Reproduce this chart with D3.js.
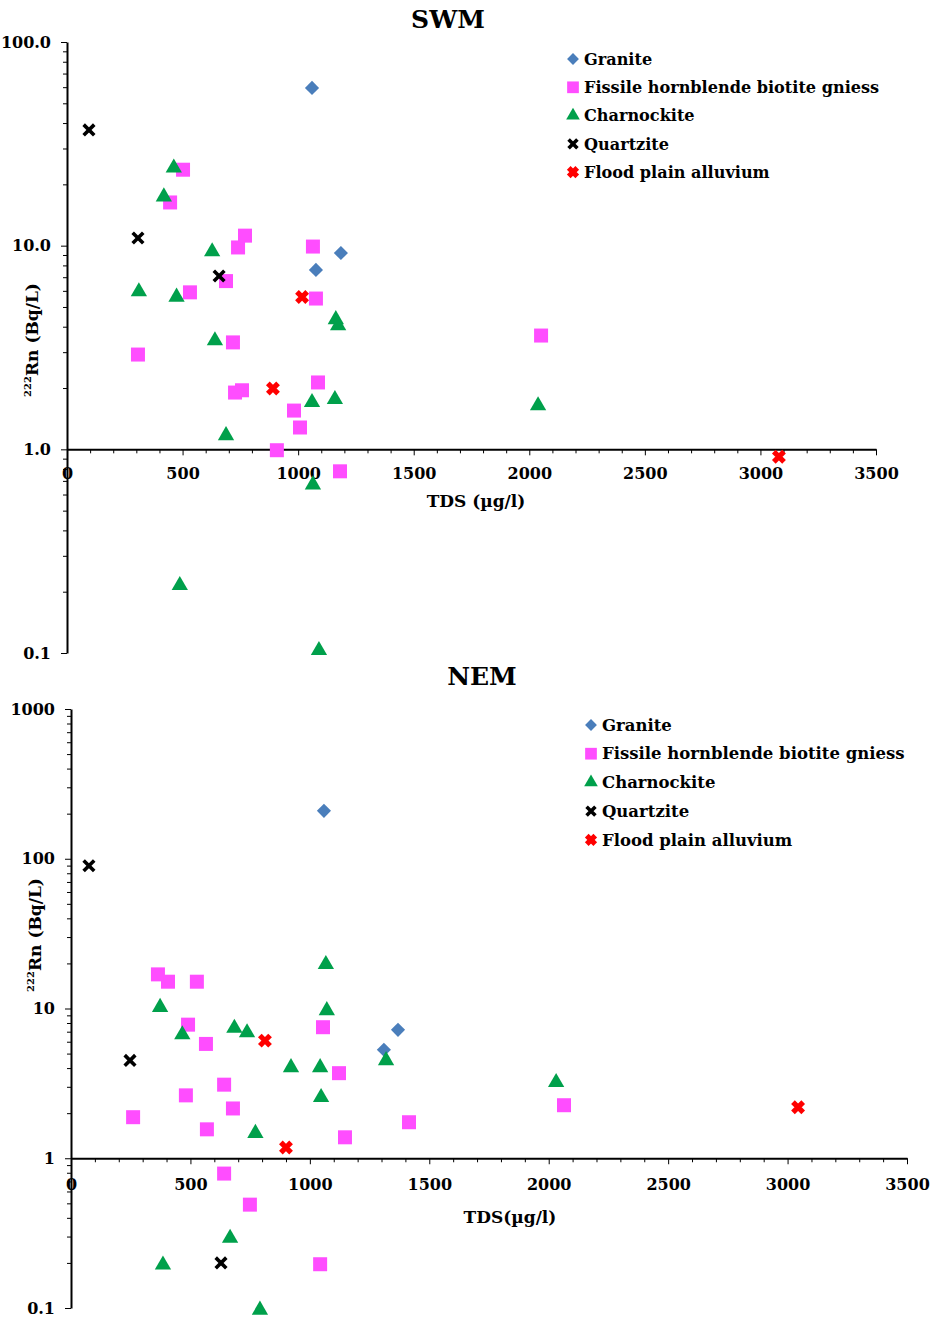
<!DOCTYPE html>
<html>
<head>
<meta charset="UTF-8">
<title>222Rn vs TDS</title>
<style>
  body { margin: 0; background: #fff; }
  svg { display: block; font-family: "DejaVu Serif", serif; font-weight: bold; }
  .tick line, .domain { stroke: #000; }
</style>
</head>
<body>
<svg></svg>
<script src="https://d3js.org/d3.v7.min.js"></script>
<script>

let width = 936, height = 1317;

const seriesNames = ["Granite", "Fissile hornblende biotite gniess", "Charnockite", "Quartzite", "Flood plain alluvium"];

// SWM season, [TDS, 222Rn]
const swmGranite = [[1060, 59.5], [1077, 7.6], [1185, 9.2]];
const swmFissile = [[502, 23.6], [446, 16.3], [770, 11.2], [740, 9.8], [532, 5.9], [688, 6.7], [1064, 9.9],
  [1077, 5.5], [718, 3.35], [307, 2.92], [727, 1.9], [757, 1.95], [1086, 2.13], [982, 1.55], [1008, 1.28],
  [908, 0.99], [1181, 0.78], [2051, 3.62]];
const swmCharnockite = [[462, 24.1], [419, 17.4], [628, 9.35], [311, 5.95], [474, 5.6], [1163, 4.34], [1173, 4.05],
  [640, 3.42], [1060, 1.70], [1159, 1.76], [688, 1.17], [1064, 0.67], [488, 0.215], [1090, 0.103], [2038, 1.64]];
const swmQuartzite = [[95, 37], [307, 10.9], [658, 7.1]];
const swmFlood = [[1017, 5.6], [891, 1.99], [3080, 0.92]];

// NEM season, [TDS, 222Rn]
const nemGranite = [[1059, 209], [1310, 5.3], [1369, 7.2]];
const nemFissile = [[364, 16.9], [406, 15.1], [527, 15.1], [490, 7.8], [565, 5.8], [1055, 7.5], [1122, 3.7],
  [641, 3.1], [481, 2.63], [678, 2.15], [260, 1.88], [569, 1.56], [1415, 1.74], [1147, 1.38], [641, 0.79],
  [749, 0.49], [1043, 0.196], [2064, 2.26]];
const nemCharnockite = [[1067, 19.7], [373, 10.2], [1071, 9.7], [466, 6.7], [684, 7.4], [737, 6.9], [921, 4.04],
  [1043, 4.04], [1319, 4.5], [1047, 2.55], [772, 1.47], [666, 0.293], [385, 0.194], [791, 0.097], [2031, 3.21]];
const nemQuartzite = [[75, 89.8], [247, 4.5], [628, 0.2]];
const nemFlood = [[812, 6.1], [900, 1.18], [3044, 2.19]];

const xTicks = [0, 500, 1000, 1500, 2000, 2500, 3000, 3500];

// marker look per series
const markers = [
  {shape: d3.symbolSquare, size: 100, rotate: 45, fill: "#4a7ebb"},
  {shape: d3.symbolSquare, size: 196, rotate: 0, fill: "#ff4dff"},
  {shape: d3.symbolTriangle, size: 115, rotate: 0, fill: "#00a04b"},
  {shape: d3.symbolX, size: 75, rotate: 0, stroke: "#000", sw: 3.6},
  {shape: d3.symbolX, size: 70, rotate: 0, stroke: "#ff0000", sw: 5.2}
];

let svg = d3.select("svg")
  .attr("width", width)
  .attr("height", height);

let panels = [
  {title: "SWM", tx: 448, ty: 28, series: [swmGranite, swmFissile, swmCharnockite, swmQuartzite, swmFlood],
   xr: [67, 876], yd: [0.1, 100], yr: [653, 42], yTicks: [0.1, 1, 10, 100], yfmt: d3.format(".1f"),
   xLabel: "TDS (\u00b5g/l)", xlx: 476, xly: 507, ylx: 37, yly: 340,
   legX: 573, legY: 59, legStep: 28.3, legFont: 16.1},
  {title: "NEM", tx: 482, ty: 685, series: [nemGranite, nemFissile, nemCharnockite, nemQuartzite, nemFlood],
   xr: [71, 907], yd: [0.1, 1000], yr: [1308, 709], yTicks: [0.1, 1, 10, 100, 1000], yfmt: d => d < 1 ? "0.1" : d3.format("d")(d),
   xLabel: "TDS(\u00b5g/l)", xlx: 510, xly: 1223, ylx: 40, yly: 935,
   legX: 591, legY: 725, legStep: 28.7, legFont: 16.5}
];

function markerPath(m, legend) {
  let s = legend ? m.size * 0.7 : m.size;
  return d3.symbol().type(m.shape).size(s)();
}

function styleTicks(a) {
  a.selectAll("text")
    .style("font-size", "16px")
    .style("font-family", "DejaVu Serif")
    .style("font-weight", "bold")
    .attr("fill", "#000");
}

panels.forEach(p => {
  let g = svg.append("g");
  let x = d3.scaleLinear().domain([0, 3500]).range(p.xr);
  let y = d3.scaleLog().domain(p.yd).range(p.yr);

  // minor y ticks 2..9 of each decade
  let minorY = [];
  p.yTicks.slice(0, -1).forEach(t => { for (let k = 2; k <= 9; k++) minorY.push(t * k); });
  let minorX = d3.range(0, 3501, 100).filter(v => v % 500 != 0);

  g.append("text")
    .attr("x", p.tx).attr("y", p.ty)
    .attr("text-anchor", "middle")
    .style("font-size", "25px")
    .text(p.title);

  g.append("g")
    .attr("transform", "translate(" + p.xr[0] + ",0)")
    .call(d3.axisLeft(y).tickValues(minorY).tickSize(4).tickFormat(""))
    .call(a => a.select(".domain").remove());

  g.append("g")
    .attr("transform", "translate(" + p.xr[0] + ",0)")
    .call(d3.axisLeft(y).tickValues(p.yTicks).tickSize(6).tickSizeOuter(0).tickPadding(10).tickFormat(p.yfmt))
    .call(styleTicks)
    .call(a => a.select(".domain").attr("stroke-width", 2));

  g.append("g")
    .attr("transform", "translate(0," + y(1) + ")")
    .call(d3.axisBottom(x).tickValues(minorX).tickSize(4).tickFormat(""))
    .call(a => a.select(".domain").remove());

  g.append("g")
    .attr("transform", "translate(0," + y(1) + ")")
    .call(d3.axisBottom(x).tickValues(xTicks).tickSize(6).tickSizeOuter(0)
      .tickPadding(p.title == "SWM" ? 12 : 14).tickFormat(d3.format("d")))
    .call(styleTicks)
    .call(a => a.select(".domain").attr("stroke-width", 2));

  g.append("text")
    .attr("x", p.xlx).attr("y", p.xly)
    .attr("text-anchor", "middle")
    .style("font-size", "17px")
    .text(p.xLabel);

  let yl = g.append("text")
    .attr("transform", "translate(" + p.ylx + "," + p.yly + ") rotate(-90)")
    .attr("text-anchor", "middle")
    .attr("dy", "0.35em")
    .style("font-size", "17px");
  yl.append("tspan").style("font-size", "10px").attr("dy", "-0.6em").text("222");
  yl.append("tspan").attr("dy", "0.4em").text("Rn (Bq/L)");

  // points
  p.series.forEach((data, i) => {
    let m = markers[i];
    g.append("g")
      .selectAll("path")
      .data(data)
      .enter()
      .append("path")
        .attr("d", markerPath(m, false))
        .attr("transform", d => "translate(" + x(d[0]) + "," + y(d[1]) + ") rotate(" + m.rotate + ")")
        .attr("fill", m.fill || "none")
        .attr("stroke", m.stroke || "none")
        .attr("stroke-width", m.sw || 0);
  });

  // legend
  seriesNames.forEach((name, i) => {
    let m = markers[i];
    let ly = p.legY + i * p.legStep;
    g.append("path")
      .attr("d", markerPath(m, true))
      .attr("transform", "translate(" + p.legX + "," + ly + ") rotate(" + m.rotate + ")")
      .attr("fill", m.fill || "none")
      .attr("stroke", m.stroke || "none")
      .attr("stroke-width", m.sw || 0);
    g.append("text")
      .attr("x", p.legX + 11).attr("y", ly)
      .attr("dy", "0.35em")
      .style("font-size", p.legFont + "px")
      .text(name);
  });
});

</script>
</body>
</html>
